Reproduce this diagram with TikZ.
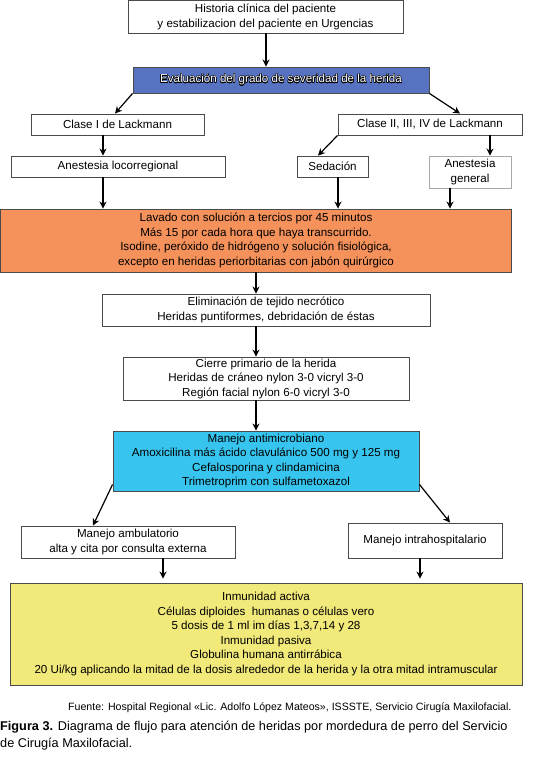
\documentclass[tikz,border=0pt]{standalone}
\usepackage{fontspec}
\setmainfont{Liberation Sans}
\usepackage[copies]{contour}
\contourlength{0.35pt}
\usetikzlibrary{arrows.meta,calc}
\definecolor{evalblue}{HTML}{5672C0}
\definecolor{orangebox}{HTML}{F5915A}
\definecolor{cyanbox}{HTML}{37C5EF}
\definecolor{yellowbox}{HTML}{F1E97A}
\definecolor{edgegray}{HTML}{4A4A4A}
\definecolor{lightedge}{HTML}{A8A8A8}
\tikzset{
  box/.style={draw=edgegray, line width=0.9pt, fill=white, inner sep=0pt, align=center,
    font=\fontsize{11.6}{14.5}\selectfont},
  arr/.style={-{Stealth[length=7pt,width=7pt]}, line width=1.2pt, black},
}
\begin{document}
\begin{tikzpicture}[x=1pt,y=-1pt]
\useasboundingbox (0,0) rectangle (541,762);
\node[box, minimum width=275, minimum height=32.5] (top) at (265.5,16.75) {Historia clínica del paciente\\y estabilizacion del paciente en Urgencias};
\node[box, fill=evalblue, minimum width=296, minimum height=26] (eval) at (281,80) {\contour{black}{\textcolor{white}{Evaluación del grado de severidad de la herida}}};
\node[box, minimum width=173, minimum height=21] (clase1) at (117.5,124.5) {Clase I de Lackmann};
\node[box, minimum width=184, minimum height=21] (clase2) at (430,124.5) {Clase II, III, IV de Lackmann};
\node[box, minimum width=214, minimum height=21] (anloc) at (118,166.5) {Anestesia locorregional};
\node[box, minimum width=71, minimum height=21] (sedac) at (332.5,166.5) {Sedación};
\node[box, draw=lightedge, minimum width=82, minimum height=32] (angen) at (470,172) {Anestesia\\general};
\node[box, fill=orangebox, minimum width=511, minimum height=63] (orange) at (256,240.5) {Lavado con solución a tercios por 45 minutos\\Más 15 por cada hora que haya transcurrido.\\Isodine, peróxido de hidrógeno y solución fisiológica,\\excepto en heridas periorbitarias con jabón quirúrgico};
\node[box, minimum width=328, minimum height=32] (elim) at (266,310) {Eliminación de tejido necrótico\\Heridas puntiformes, debridación de éstas};
\node[box, minimum width=286, minimum height=43] (cierre) at (266,378.5) {Cierre primario de la herida\\Heridas de cráneo nylon 3-0 vicryl 3-0\\Región facial nylon 6-0 vicryl 3-0};
\node[box, fill=cyanbox, minimum width=306, minimum height=60] (anti) at (266,461) {Manejo antimicrobiano\\Amoxicilina más ácido clavulánico 500 mg y 125 mg\\Cefalosporina y clindamicina\\Trimetroprim con sulfametoxazol};
\node[box, minimum width=214, minimum height=32] (amb) at (128,542) {Manejo ambulatorio\\alta y cita por consulta externa};
\node[box, minimum width=154, minimum height=35] (intra) at (425,540.5) {Manejo intrahospitalario};
\node[box, fill=yellowbox, minimum width=512, minimum height=102] (yellow) at (266,634) {Inmunidad activa\\Células diploides\ \ humanas o células vero\\5 dosis de 1 ml im días 1,3,7,14 y 28\\Inmunidad pasiva\\Globulina humana antirrábica\\20 Ui/kg aplicando la mitad de la dosis alrededor de la herida y la otra mitad intramuscular};
\node[anchor=west, inner sep=0pt, font=\fontsize{10.6}{12}\selectfont] (fuente) at (68,708) {Fuente: Hospital Regional «Lic. Adolfo López Mateos», ISSSTE, Servicio Cirugía Maxilofacial.};
\node[anchor=north west, inner sep=0pt, align=left, font=\fontsize{12.7}{17}\selectfont] (caption) at (0,721) {\textbf{Figura 3.} Diagrama de flujo para atención de heridas por mordedura de perro del Servicio\\de Cirugía Maxilofacial.};
% connectors
\draw[arr] (top.south -| 266,0) -- (eval.north -| 266,0);
\draw[arr] (eval.south west) -- ([xshift=-2.5pt]clase1.north);
\draw[arr] (eval.south east) -- ([xshift=30pt]clase2.north);
\draw[arr] (clase1.south -| 103,0) -- (anloc.north -| 103,0);
\draw[arr] (clase2.south west) -- ([xshift=-14.5pt]sedac.north);
\draw[arr] (clase2.south -| 490,0) -- (angen.north -| 490,0);
\draw[arr] (anloc.south -| 103,0) -- (orange.north -| 103,0);
\draw[arr] (sedac.south -| 338,0) -- (orange.north -| 338,0);
\draw[arr] (angen.south -| 450,0) -- (orange.north -| 450,0);
\draw[arr] (orange.south -| 256,0) -- (elim.north -| 256,0);
\draw[arr] (elim.south -| 256,0) -- (cierre.north -| 256,0);
\draw[arr] (cierre.south -| 256,0) -- (anti.north -| 256,0);
\draw[arr] ([yshift=7pt]anti.south west) -- ([xshift=-35pt]amb.north);
\draw[arr] ([yshift=7pt]anti.south east) -- ([xshift=25pt]intra.north);
\draw[arr, shorten >=4pt] (amb.south -| 163,0) -- (yellow.north -| 163,0);
\draw[arr, shorten >=4pt] (intra.south -| 420,0) -- (yellow.north -| 420,0);
\end{tikzpicture}
\end{document}
